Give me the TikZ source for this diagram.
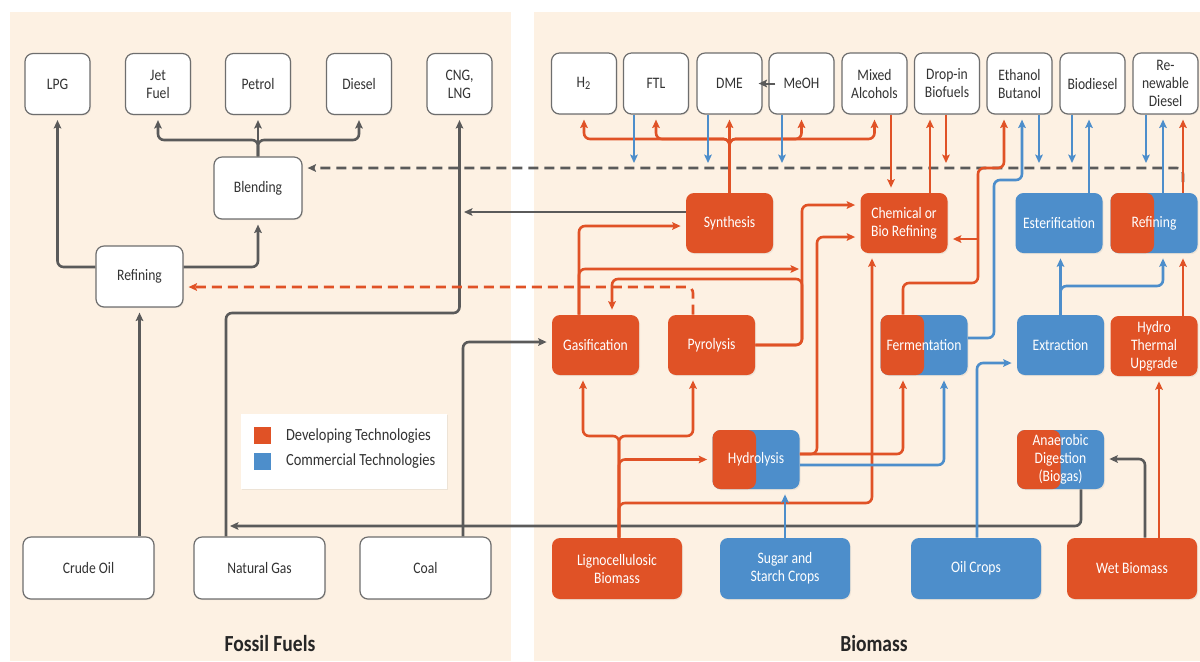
\documentclass[tikz,border=0pt]{standalone}
\usepackage{fontspec}
\setmainfont{Carlito}[FakeStretch=0.85]
\usetikzlibrary{arrows.meta,shadows}
\definecolor{cBeige}{HTML}{FDF1E3}
\definecolor{cOrange}{HTML}{E05226}
\definecolor{cBlue}{HTML}{4D8ECB}
\definecolor{cGrey}{HTML}{5A5A5A}
\definecolor{cBorder}{HTML}{6E6E6E}
\definecolor{cText}{HTML}{333333}
\begin{document}
\begin{tikzpicture}[x=0.5pt,y=-0.5pt,
  font=\fontsize{8}{9}\selectfont,
  nbase/.style={rectangle, rounded corners=4pt, align=center, inner sep=1pt,
    drop shadow={opacity=0.12,shadow xshift=0.5pt,shadow yshift=-0.6pt}},
  wbox/.style={nbase, draw=cBorder, line width=0.6pt, fill=white, text=cText,
    minimum width=32.5pt, minimum height=30.5pt},
  wlow/.style={wbox, minimum width=65.5pt, minimum height=31pt},
  obox/.style={nbase, fill=cOrange, text=white, minimum width=43.5pt, minimum height=30pt},
  bbox/.style={nbase, fill=cBlue, text=white, minimum width=43.5pt, minimum height=30pt},
  sbox/.style={bbox, path picture={\fill[cOrange] (path picture bounding box.south west) rectangle (path picture bounding box.north);}},
  olow/.style={obox, minimum width=65pt, minimum height=30.5pt},
  blow/.style={bbox, minimum width=65pt, minimum height=30.5pt},
  lbase/.style={line width=1.3pt, rounded corners=3pt},
  gline/.style={lbase, draw=cGrey},
  oline/.style={lbase, draw=cOrange},
  bline/.style={lbase, draw=cBlue},
  arrf/.style={-{Stealth[length=4.2pt,width=3.8pt,inset=0.8pt]}},
  arrn/.style={arrf, shorten >=2.5pt},
]
\useasboundingbox (0,0) rectangle (1200,661);
\fill[cBeige] (10,12) rectangle (511,661);
\fill[cBeige] (534,12) rectangle (1200,661);

% ---------- left nodes
\node[wbox] (LPG) at (57.5,84) {LPG};
\node[wbox] (JetFuel) at (158,84) {Jet\\Fuel};
\node[wbox] (Petrol) at (258,84) {Petrol};
\node[wbox] (Diesel) at (359,84) {Diesel};
\node[wbox] (CNG) at (459.5,84) {CNG,\\LNG};
\node[wbox, minimum width=44pt, minimum height=31pt] (Blending) at (258,188) {Blending};
\node[wbox, minimum width=43.5pt, minimum height=30.5pt] (Refining) at (139.5,276.5) {Refining};
\node[wlow] (Crude) at (88.5,568) {Crude Oil};
\node[wlow] (NatGas) at (259.5,568) {Natural Gas};
\node[wlow] (Coal) at (425.5,568) {Coal};

% ---------- right top nodes
\node[wbox] (H2) at (584,83.5) {H\textsubscript{2}};
\node[wbox] (FTL) at (656,83.5) {FTL};
\node[wbox] (DME) at (729.5,83.5) {DME};
\node[wbox] (MeOH) at (801.5,83.5) {MeOH};
\node[wbox] (Mixed) at (874.5,83.5) {Mixed\\Alcohols};
\node[wbox] (Dropin) at (947,83.5) {Drop-in\\Biofuels};
\node[wbox] (EthBut) at (1019.5,83.5) {Ethanol\\Butanol};
\node[wbox] (Biodiesel) at (1092.5,83.5) {Biodiesel};
\node[wbox] (RenDiesel) at (1165.5,83.5) {Re-\\newable\\Diesel};

% ---------- right middle nodes
\node[obox] (Synthesis) at (729.5,223) {Synthesis};
\node[obox] (Chemical) at (904,223) {Chemical or\\Bio Refining};
\node[bbox] (Ester) at (1059,223) {Esterification};
\node[sbox] (RefR) at (1154,223) {Refining};
\node[obox] (Gasification) at (595.5,345) {Gasification};
\node[obox] (Pyrolysis) at (711.5,345) {Pyrolysis};
\node[sbox] (Ferm) at (924,345) {Fermentation};
\node[bbox] (Extraction) at (1060.5,345) {Extraction};
\node[obox] (HTU) at (1154,346) {Hydro\\Thermal\\Upgrade};
\node[sbox, minimum height=29.5pt] (Hydrolysis) at (756,459.5) {Hydrolysis};
\node[sbox, minimum height=29.5pt] (AD) at (1060.5,459.5) {Anaerobic\\Digestion\\(Biogas)};
\node[olow] (Ligno) at (617,568.5) {Lignocellulosic\\Biomass};
\node[blow] (Sugar) at (785,568.5) {Sugar and\\Starch Crops};
\node[blow] (OilCrops) at (976,568.5) {Oil Crops};
\node[olow] (Wet) at (1132,568.5) {Wet Biomass};

% ---------- legend and titles
\node[nbase, rounded corners=0pt, fill=white, minimum width=103pt, minimum height=37.5pt] (legend) at (344,451.5) {};
\node[fill=cOrange, minimum size=8.5pt, inner sep=0pt] (lo) at (262.5,435) {};
\node[fill=cBlue, minimum size=8.5pt, inner sep=0pt] (lb) at (262.5,461.5) {};
\node[anchor=west, text=cText, font=\fontsize{8.5}{10}\selectfont] (lot) at (279,436) {Developing Technologies};
\node[anchor=west, text=cText, font=\fontsize{8.5}{10}\selectfont] (lbt) at (279,461.5) {Commercial Technologies};
\node[text=black!85, font=\bfseries\fontsize{11.5}{13}\selectfont] (ff) at (270,643) {Fossil Fuels};
\node[text=black!85, font=\bfseries\fontsize{11.5}{13}\selectfont] (bm) at (874,643) {Biomass};

% ---------- junction coordinates
\coordinate (cngj) at (464,212);
\coordinate (ngj) at (230,526);
\coordinate (rdj) at (1183,182);
\coordinate (dl) at (0,163);
\coordinate (fj) at (978,239);
\coordinate (pyj) at (799,269);

% ---------- left connectors
\draw[gline,arrn] (Refining.west |- 0,267) -| (LPG.south);
\draw[gline,arrn] (Refining.east |- 0,267) -| (Blending.south);
\draw[gline,arrn] (Blending.north) -- (258,140) -| (JetFuel.south);
\draw[gline,arrn] (Blending.north) -- (258,140) -| (Diesel.south);
\draw[gline,arrn] (Blending.north) -- (Petrol.south);
\draw[gline,arrn] (Crude.north -| Refining.south) -- (Refining.south);
\draw[gline,arrn] (NatGas.north -| 226,0) |- (CNG.south |- 0,313) -- (CNG.south);
\draw[gline,arrn] (Coal.north -| 463,0) |- (Gasification.west |- 0,342);
\draw[gline,arrf] (Synthesis.west |- 0,212) -- (cngj);
\draw[gline,arrf] (AD.south -| 1081,0) |- (ngj);
\draw[gline,arrn,dash pattern=on 5pt off 3pt] (rdj) |- (Blending.east |- 0,168);
\draw[oline,arrn,dash pattern=on 5pt off 3pt] (Pyrolysis.north -| 693,0) |- (Refining.east |- 0,287);

% ---------- right connectors: top
\draw[oline,arrn] (Synthesis.north) -- (DME.south);
\draw[oline,arrn] (Synthesis.north) -- (729.5,139) -| (H2.south);
\draw[oline,arrn] (Synthesis.north) -- (729.5,139) -| (FTL.south);
\draw[oline,arrn] (Synthesis.north) -- (729.5,139) -| (MeOH.south);
\draw[oline,arrn] (Synthesis.north) -- (729.5,139) -| (Mixed.south);
\draw[bline,arrf] (FTL.south -| 634,0) -- (dl -| 634,0);
\draw[bline,arrf] (DME.south -| 708,0) -- (dl -| 708,0);
\draw[bline,arrf] (MeOH.south -| 782,0) -- (dl -| 782,0);
\draw[oline,arrf] (Dropin.south -| 946,0) -- (dl -| 946,0);
\draw[bline,arrf] (EthBut.south -| 1039,0) -- (dl -| 1039,0);
\draw[bline,arrf] (Biodiesel.south -| 1072,0) -- (dl -| 1072,0);
\draw[bline,arrf] (RenDiesel.south -| 1146,0) -- (dl -| 1146,0);
\draw[gline,arrf,line width=1pt] ([xshift=3.5pt]MeOH.west) -- ([xshift=-2pt]DME.east);

\draw[oline,arrn] (Mixed.south -| 891,0) -- (Chemical.north -| 891,0);
\draw[oline,arrn] (Chemical.north -| 930,0) -- (Dropin.south -| 930,0);
\draw[oline,arrn] (Ferm.north -| 903,0) |- (978,283) |- (1004,168) -- (EthBut.south -| 1004,0);
\draw[oline,arrn] (fj) -- (Chemical.east |- fj);
\draw[bline,arrn] (Ferm.east |- 0,338) -| (994,180) -| (EthBut.south -| 1022,0);
\draw[bline,arrn] (Ester.north -| 1089,0) -- (Biodiesel.south -| 1089,0);
\draw[bline,arrn] (RefR.north -| 1163,0) -- (RenDiesel.south -| 1163,0);
\draw[oline,arrn] (RefR.north -| 1183,0) -- (RenDiesel.south -| 1183,0);

% ---------- right connectors: middle
\draw[bline,arrn] (Extraction.north) -- (Extraction.north |- Ester.south);
\draw[bline,arrn] (Extraction.north) |- (1163,286) -- (RefR.south -| 1163,0);
\draw[oline,arrn] (HTU.north -| 1183,0) -- (RefR.south -| 1183,0);
\draw[bline,arrn] (OilCrops.north -| 977,0) |- (Extraction.west |- 0,363);
\draw[oline,arrn] (Wet.north -| 1159,0) -- (HTU.south -| 1159,0);
\draw[gline,arrn] (Wet.north -| 1145,0) |- (AD.east |- 0,459);

\draw[oline,arrn] (Ligno.north -| 619,0) -- (619,436) -| (Gasification.south -| 583,0);
\draw[oline,arrn] (Ligno.north -| 619,0) -- (619,436) -| (Pyrolysis.south -| 693,0);
\draw[oline,arrn] (Ligno.north -| 619,0) |- (Hydrolysis.west);
\draw[oline,arrn] (Ligno.north -| 619,0) |- (872,503) -- (Chemical.south -| 872,0);

\draw[oline,arrn] (Gasification.north -| 579,0) |- (Synthesis.west |- 0,226);
\draw[oline,arrf] (Gasification.north -| 579,0) |- (pyj);
\draw[oline,arrn] (Pyrolysis.east) -| (802,205) -- (Chemical.west |- 0,205);
\draw[oline,arrn] (Pyrolysis.east) -| (802,279) -| (Gasification.north -| 612,0);

\draw[oline,arrn] (Hydrolysis.east |- 0,454) -| (817,237) -- (Chemical.west |- 0,237);
\draw[oline,arrn] (Hydrolysis.east |- 0,454) -| (Ferm.south -| 903,0);
\draw[bline,arrn] (Hydrolysis.east |- 0,465) -| (Ferm.south -| 944,0);
\draw[bline,arrn] (Sugar.north) -- (Hydrolysis.south -| Sugar.north);
\end{tikzpicture}
\end{document}
